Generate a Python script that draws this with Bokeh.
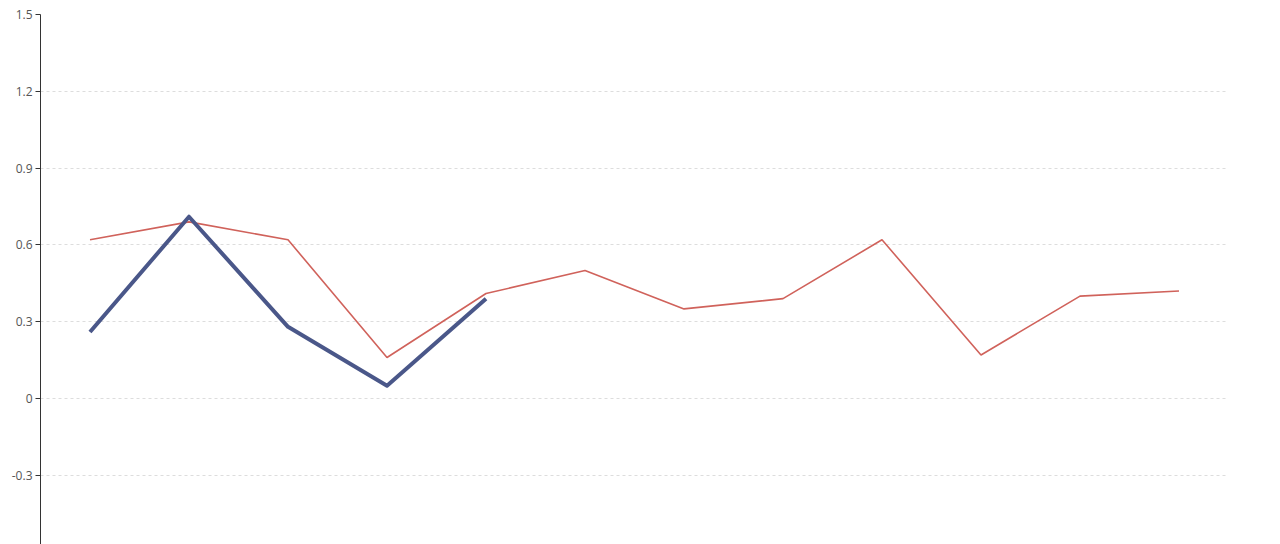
from bokeh.plotting import figure
from bokeh.models import FixedTicker
from bokeh.embed import file_html
from bokeh.resources import INLINE

# category index (12 categories, labels not visible)
categories = list(range(12))
series_red = [0.62, 0.69, 0.62, 0.16, 0.41, 0.50, 0.35, 0.39, 0.62, 0.17, 0.40, 0.42]
series_blue = [0.26, 0.71, 0.28, 0.05, 0.39]
y_ticks = [-0.6, -0.3, 0, 0.3, 0.6, 0.9, 1.2, 1.5]
y_tick_labels = ["-0.6", "-0.3", "0", "0.3", "0.6", "0.9", "1.2", "1.5"]

x_red = [c + 0.5 for c in categories]
x_blue = [c + 0.5 for c in categories[:len(series_blue)]]

p = figure(width=1280, height=544, output_backend="svg", toolbar_location=None,
           x_range=(0, 12), y_range=(-0.5703, 1.5),
           min_border_left=40, min_border_right=52, min_border_top=14, min_border_bottom=0)
p.outline_line_color = None
p.background_fill_color = "white"
p.border_fill_color = "white"

p.xaxis.visible = False
p.xgrid.visible = False

p.yaxis.ticker = FixedTicker(ticks=y_ticks)
p.yaxis.major_label_overrides = {t: l for t, l in zip(y_ticks, y_tick_labels)}
p.yaxis.axis_line_color = "#333333"
p.yaxis.axis_line_width = 1
p.yaxis.major_tick_line_color = "#333333"
p.yaxis.major_tick_in = 0
p.yaxis.major_tick_out = 5
p.yaxis.minor_tick_line_color = None
p.yaxis.major_label_standoff = 3
p.yaxis.major_label_text_font = "Open Sans"
p.yaxis.major_label_text_font_size = "12px"
p.yaxis.major_label_text_color = "#555555"

p.ygrid.grid_line_color = "#dddddd"
p.ygrid.grid_line_dash = "3 3"
p.ygrid.grid_line_width = 1

p.line(x_red, series_red, line_color="#d0625b", line_width=1.6)
p.line(x_blue, series_blue, line_color="#4a5789", line_width=4, line_join="round")

open("out.html", "w").write(file_html(p, INLINE))
